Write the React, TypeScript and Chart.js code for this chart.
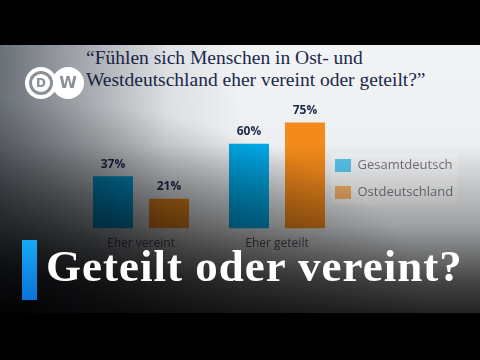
import React, { useEffect, useRef } from "react";
import { Chart, registerables } from "chart.js";

Chart.register(...registerables);

// ---- data ----
const categories = ["Eher vereint", "Eher geteilt"];
const seriesNames = ["Gesamtdeutsch", "Ostdeutschland"];
const gesamtdeutsch = [37, 60];
const ostdeutschland = [21, 75];
const questionLines = [
  "“Fühlen sich Menschen in Ost- und",
  "Westdeutschland eher vereint oder geteilt?”",
];
const headline = "Geteilt oder vereint?";

// ---- styles ----
const BLUE = "#00aae8";
const ORANGE = "#f38a1b";
const NAVY = "#1b2a4c";

const valueLabels = {
  id: "valueLabels",
  afterDatasetsDraw(chart: any) {
    const ctx = chart.ctx;
    ctx.save();
    ctx.font = "bold 12px 'Open Sans'";
    ctx.fillStyle = NAVY;
    ctx.textAlign = "center";
    ctx.textBaseline = "middle";
    chart.data.datasets.forEach((ds: any, i: number) => {
      const meta = chart.getDatasetMeta(i);
      meta.data.forEach((bar: any, j: number) => {
        ctx.fillText(ds.data[j] + "%", bar.x, bar.y - 12);
      });
    });
    ctx.restore();
  },
};

const legendNudge = {
  id: "legendNudge",
  afterLayout(chart: any) {
    const lg = chart.legend;
    if (!lg) return;
    const dx = -24;
    const dy = 6;
    lg.left += dx;
    lg.right += dx;
    lg.top += dy;
    lg.bottom += dy;
  },
  beforeDatasetsDraw(chart: any) {
    const lg = chart.legend;
    if (!lg || !lg.legendHitBoxes || !lg.legendHitBoxes.length) return;
    const hb = lg.legendHitBoxes;
    let l = Infinity, t = Infinity, r = -Infinity, b = -Infinity;
    hb.forEach((h: any) => {
      l = Math.min(l, h.left);
      t = Math.min(t, h.top);
      r = Math.max(r, h.left + h.width);
      b = Math.max(b, h.top + h.height);
    });
    const ctx = chart.ctx;
    ctx.save();
    ctx.fillStyle = "rgba(255,255,255,0.35)";
    ctx.fillRect(l - 4, t - 6, r - l + 8, b - t + 12);
    ctx.restore();
  },
};

function ChartCanvas() {
  const ref = useRef<HTMLCanvasElement | null>(null);
  useEffect(() => {
    if (!ref.current) return;
    const chart = new Chart(ref.current, {
      type: "bar",
      data: {
        labels: categories,
        datasets: [
          {
            label: seriesNames[0],
            data: gesamtdeutsch,
            backgroundColor: BLUE,
            categoryPercentage: 0.824,
            barPercentage: 0.714,
          },
          {
            label: seriesNames[1],
            data: ostdeutschland,
            backgroundColor: ORANGE,
            categoryPercentage: 0.824,
            barPercentage: 0.714,
          },
        ],
      },
      options: {
        animation: false,
        responsive: false,
        devicePixelRatio: 1,
        layout: { padding: { left: 73, top: 5, right: 0, bottom: 3 } },
        scales: {
          x: {
            grid: { display: false, drawTicks: false },
            border: { display: false },
            ticks: {
              color: "#555a60",
              padding: 8,
              font: { family: "'Open Sans'", size: 12 },
            },
          },
          y: { display: false, min: 0, max: 100 },
        },
        plugins: {
          legend: {
            position: "right",
            maxWidth: 135,
            labels: {
              boxWidth: 16,
              boxHeight: 13,
              padding: 14,
              color: "#2a2d33",
              font: { family: "'Open Sans'", size: 13 },
            },
          },
          tooltip: { enabled: false },
        },
      } as any,
      plugins: [valueLabels, legendNudge],
    });
    return () => chart.destroy();
  }, []);
  return (
    <canvas
      ref={ref}
      width={480}
      height={180}
      style={{ position: "absolute", left: 0, top: 82, width: 480, height: 180 }}
    />
  );
}

export default function App() {
  return (
    <div
      style={{
        position: "fixed",
        left: 0,
        top: 0,
        width: 480,
        height: 360,
        background: "#000",
        overflow: "hidden",
      }}
    >
      {/* light stage */}
      <div
        style={{
          position: "absolute",
          left: 0,
          top: 45,
          width: 480,
          height: 268,
          background: "linear-gradient(to bottom, #f1f3f5 0%, #e6e8ea 100%)",
        }}
      />
      {/* question */}
      <div
        style={{
          position: "absolute",
          left: 86,
          top: 47,
          fontFamily: "'Liberation Serif', serif",
          fontSize: 19.5,
          lineHeight: "22px",
          color: NAVY,
          whiteSpace: "nowrap",
        }}
      >
        {questionLines.map((l, i) => (
          <div key={i}>{l}</div>
        ))}
      </div>
      <ChartCanvas />
      {/* darkening overlay */}
      <div
        style={{
          position: "absolute",
          left: 0,
          top: 45,
          width: 480,
          height: 268,
          pointerEvents: "none",
          background: [
            "radial-gradient(ellipse 90% 80% at 0% 100%, rgba(0,0,0,0.9) 0%, rgba(0,0,0,0) 100%)",
            "linear-gradient(to right, rgba(10,18,30,0.58) 0%, rgba(10,18,30,0.32) 18%, rgba(10,18,30,0.08) 35%, rgba(10,18,30,0) 50%)",
            "linear-gradient(to bottom, rgba(0,0,0,0) 0%, rgba(0,0,0,0) 37%, rgba(0,0,0,0.33) 68%, rgba(0,0,0,0.7) 88%, rgba(0,0,0,0.85) 100%)",
          ].join(", "),
        }}
      />
      {/* DW logo */}
      <div
        style={{
          position: "absolute",
          left: 52,
          top: 67,
          width: 32,
          height: 32,
          borderRadius: "50%",
          background: "#fff",
          color: "#8b9098",
          fontFamily: "'DejaVu Sans', sans-serif",
          fontWeight: "bold",
          fontSize: 16,
          lineHeight: "32px",
          textAlign: "center",
        }}
      >
        W
      </div>
      <div
        style={{
          position: "absolute",
          left: 25,
          top: 67,
          width: 32,
          height: 32,
          borderRadius: "50%",
          background: "#fff",
          boxSizing: "border-box",
          padding: 4,
        }}
      >
        <div
          style={{
            width: 24,
            height: 24,
            borderRadius: "50%",
            background: "#8b9098",
            boxSizing: "border-box",
            padding: 3,
          }}
        >
          <div
            style={{
              width: 18,
              height: 18,
              borderRadius: "50%",
              background: "#fff",
              color: "#8b9098",
              fontFamily: "'DejaVu Sans', sans-serif",
              fontWeight: "bold",
              fontSize: 12,
              lineHeight: "18px",
              textAlign: "center",
            }}
          >
            D
          </div>
        </div>
      </div>
      {/* headline */}
      <div
        style={{
          position: "absolute",
          left: 22,
          top: 240,
          width: 15,
          height: 60,
          background: "linear-gradient(to bottom, #17aaf6 0%, #0a72d8 100%)",
        }}
      />
      <div
        style={{
          position: "absolute",
          left: 46,
          top: 244,
          fontFamily: "'Liberation Serif', serif",
          fontWeight: "bold",
          fontSize: 45,
          lineHeight: "45px",
          letterSpacing: "1px",
          color: "#ffffff",
          whiteSpace: "nowrap",
        }}
      >
        {headline}
      </div>
    </div>
  );
}
